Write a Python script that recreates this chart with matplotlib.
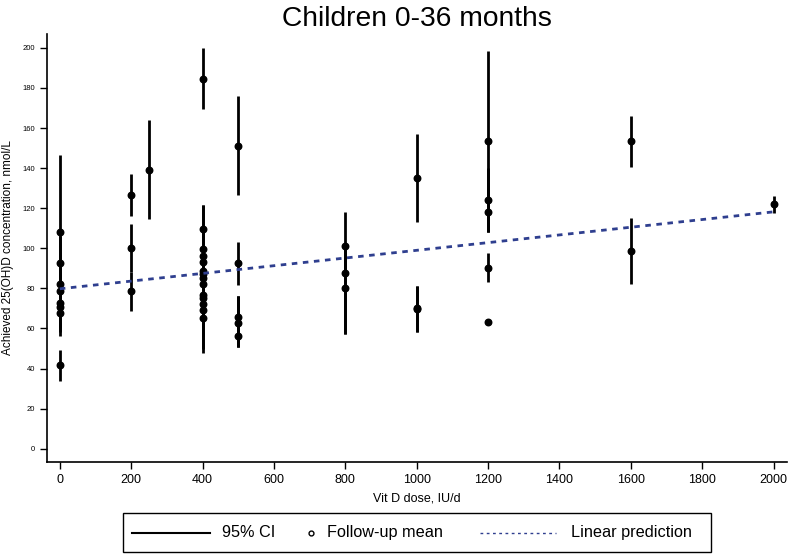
import matplotlib
matplotlib.use('Agg')
import matplotlib.pyplot as plt
import numpy as np
from matplotlib.patches import Rectangle

plt.rcParams['font.family'] = ['Liberation Sans', 'DejaVu Sans']

# dose (IU/d), follow-up mean, 95% CI (nan = no visible CI)
dose = [0, 0, 0, 0, 0, 0, 0, 0,
        200, 200, 200, 250,
        400, 400, 400, 400, 400, 400, 400, 400, 400, 400, 400, 400, 400, 400,
        500, 500, 500, 500, 500,
        800, 800, 800,
        1000, 1000, 1000,
        1200, 1200, 1200, 1200, 1200,
        1600, 1600, 2000]
mean = [108.2, 92.5, 82.1, 78.5, 72.8, 70.8, 67.5, 41.6,
        126.4, 100.1, 78.5, 139.3,
        184.4, 109.4, 99.8, 96.1, 93.0, 88.6, 87.3, 85.0, 82.1, 76.7, 75.0, 72.2, 69.2, 65.2,
        151.1, 92.5, 65.8, 62.9, 56.2,
        101.1, 87.6, 80.3,
        135.0, 70.3, 69.7,
        153.5, 124.2, 117.9, 90.3, 63.0,
        153.3, 98.8, 121.9]
ci_lo = [56.1, 80.0, 70.0, 66.0, 62.0, 60.0, 58.0, 33.9,
         116.0, 88.0, 68.8, 114.4,
         169.3, 98.0, 88.0, 85.0, 82.0, 47.6, 76.0, 74.0, 70.0, 64.0, 62.0, 60.0, 56.0, 50.0,
         126.5, 81.6, 50.6, 50.6, 50.6,
         90.0, 57.0, 57.0,
         112.9, 58.4, 58.4,
         108.2, 108.2, 108.2, 83.0, np.nan,
         140.5, 82.1, 117.4]
ci_hi = [146.4, 106.0, 95.0, 92.0, 86.0, 84.0, 80.0, 49.1,
         137.0, 112.0, 88.0, 164.0,
         199.7, 121.6, 112.0, 108.0, 105.0, 121.6, 100.0, 97.0, 95.0, 90.0, 88.0, 85.0, 82.0, 78.0,
         175.9, 103.2, 76.3, 76.3, 76.3,
         118.0, 100.0, 95.0,
         156.8, 81.1, 81.1,
         198.5, 140.0, 130.0, 97.5, np.nan,
         165.9, 115.2, 126.2]

# linear prediction endpoints
pred_x = [0, 2000]
pred_y = [79.8, 118.2]

line_col = '#2f3f8f'
fig = plt.figure(figsize=(7.9, 5.55), dpi=100)
ax = fig.add_axes([0.059, 0.168, 0.937, 0.771])

for x, lo, hi in zip(dose, ci_lo, ci_hi):
    if not np.isnan(lo):
        ax.plot([x, x], [lo, hi], color='black', lw=2, solid_capstyle='butt', zorder=2)
ax.scatter(dose, mean, s=22, color='black', zorder=3)
ax.plot(pred_x, pred_y, color=line_col, lw=2, linestyle=(0, (2, 2)), zorder=4)

ax.set_xlim(-37, 2037)
ax.set_ylim(-6.5, 207)
ax.spines['top'].set_visible(False)
ax.spines['right'].set_visible(False)
ax.spines['left'].set_linewidth(1.2)
ax.spines['bottom'].set_linewidth(1.2)
ax.set_xticks(range(0, 2001, 200))
ax.set_yticks(range(0, 201, 20))
ax.tick_params(axis='y', labelsize=5.5, length=5, width=1)
ax.tick_params(axis='x', labelsize=9, length=5, width=1)
ax.set_xlabel('Vit D dose, IU/d', fontsize=9, labelpad=5)
ax.set_ylabel('Achieved 25(OH)D concentration, nmol/L', fontsize=8.5, labelpad=6)
ax.set_title('Children 0-36 months', fontsize=20.3, pad=6)

# legend drawn in pixel space below the plot
lax = fig.add_axes([0, 0, 1, 1])
lax.set_xlim(0, 790)
lax.set_ylim(555, 0)
lax.axis('off')
lax.add_patch(Rectangle((122.5, 513), 588, 39, fill=False, edgecolor='black', lw=1))
ly = 532.5
lax.plot([132, 210], [ly, ly], color='black', lw=1.5)
lax.text(222, ly, '95% CI', fontsize=11.7, va='center', ha='left')
lax.plot([311], [ly], marker='o', markersize=3.5, markerfacecolor='white',
         markeredgecolor='black', markeredgewidth=1)
lax.text(327, ly, 'Follow-up mean', fontsize=11.7, va='center', ha='left')
lax.plot([480, 556], [ly, ly], color=line_col, lw=1, linestyle=(0, (2, 2.5)))
lax.text(571, ly, 'Linear prediction', fontsize=11.7, va='center', ha='left')

fig.savefig('out.png', dpi=100)
